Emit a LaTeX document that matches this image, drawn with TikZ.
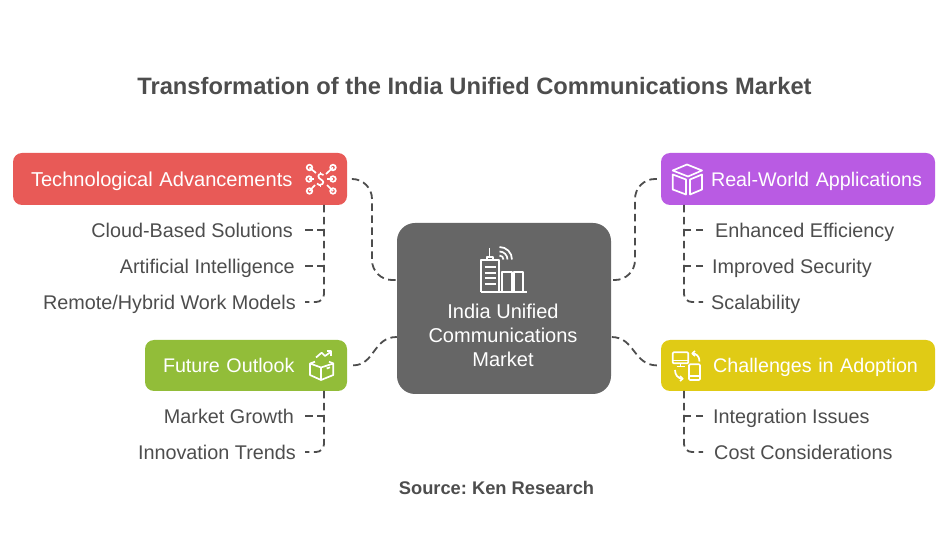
\documentclass[tikz,border=0pt]{standalone}
\usepackage{fontspec}
\setmainfont{Liberation Sans}
\usepackage{tikz}
\usetikzlibrary{arrows.meta}
\definecolor{inktext}{HTML}{4D4D4D}
\definecolor{boxred}{HTML}{E85A57}
\definecolor{boxpurple}{HTML}{B95BE3}
\definecolor{boxgreen}{HTML}{92BD39}
\definecolor{boxyellow}{HTML}{E0CB15}
\definecolor{boxgrey}{HTML}{666666}
\tikzset{
	leaf/.style={inner sep=0pt, text=inktext, font=\fontsize{19.8}{22}\selectfont, text height=15.5pt, text depth=0pt},
	headbox/.style={rounded corners=9pt, text=white, inner ysep=0pt, font=\fontsize{19.7}{22}\selectfont, text height=15pt, text depth=0pt, minimum height=52pt},
	link/.style={draw=inktext, line width=1.8pt, dash pattern=on 7.5pt off 4.5pt},
	iconline/.style={draw=white, line width=1.7pt, line join=round}
}
\begin{document}
\frenchspacing
\begin{tikzpicture}[x=1pt,y=-1pt]
	\useasboundingbox (0,0) rectangle (948,534);
	\node[font=\bfseries\fontsize{23.7}{28}\selectfont, text=inktext] (title) at (474.5,86) {Transformation of the India Unified Communications Market};
	\node[font=\bfseries\fontsize{18.3}{22}\selectfont, text=inktext] (source) at (496.5,487.5) {Source: Ken Research};
	% center
	\node[fill=boxgrey, rounded corners=18pt, minimum width=214pt, minimum height=171pt] (market) at (504,308.5) {};
	\node[align=center, text=white, font=\fontsize{20}{24}\selectfont] (markettext) at (503,335) {India Unified\\Communications\\Market};
	% four heads
	\node[headbox, fill=boxred, font=\fontsize{20.1}{22}\selectfont, text width=298pt, inner xsep=18pt, align=left] (tech) at (180,179) {Technological Advancements};
	\node[headbox, fill=boxpurple, text width=248pt, inner xsep=13pt, align=right] (real) at (798,179) {Real-World Applications};
	\node[headbox, fill=boxgreen, text width=166pt, inner xsep=18pt, align=left, minimum height=51pt] (future) at (246,365.5) {Future Outlook};
	\node[headbox, fill=boxyellow, text width=240pt, inner xsep=17pt, align=right, minimum height=51pt] (chall) at (798,365.5) {Challenges in Adoption};
	% leaves
	\node[leaf, anchor=east] (cloud) at (293,230) {Cloud-Based Solutions};
	\node[leaf, anchor=east] (ai) at (295,266) {Artificial Intelligence};
	\node[leaf, anchor=east] (remote) at (296,302) {Remote/Hybrid Work Models};
	\node[leaf, anchor=west] (eff) at (715,230) {Enhanced Efficiency};
	\node[leaf, anchor=west] (sec) at (712,266) {Improved Security};
	\node[leaf, anchor=west] (scale) at (711,302) {Scalability};
	\node[leaf, anchor=east] (growth) at (294,416) {Market Growth};
	\node[leaf, anchor=east] (trends) at (296,452) {Innovation Trends};
	\node[leaf, anchor=west] (integ) at (713,416) {Integration Issues};
	\node[leaf, anchor=west] (cost) at (714,452) {Cost Considerations};
	% trunks
	\coordinate (techtrunk) at (324,205);
	\coordinate (realtrunk) at (684,205);
	\coordinate (futuretrunk) at (324,391);
	\coordinate (challtrunk) at (684,391);
	% links to the center
	\draw[link, rounded corners=20pt, shorten <=5pt] (tech.east) -- (372,179) -- (372,280) -- (market.west |- 0,280);
	\draw[link, rounded corners=20pt, shorten <=4pt] (real.west) -- (635,179) -- (635,280) -- (market.east |- 0,280);
	\draw[link, shorten <=6pt] (future.east) .. controls (375,365) and (373,337) .. (market.west |- 0,337);
	\draw[link, shorten <=4pt] (chall.west) .. controls (633,365) and (635,337) .. (market.east |- 0,337);
	% links to the leaves
	\draw[link, rounded corners=8pt, shorten >=9pt] (techtrunk) |- (remote.east);
	\draw[link, rounded corners=8pt, shorten >=8pt] (realtrunk) |- (scale.west);
	\draw[link, rounded corners=8pt, shorten >=9pt] (futuretrunk) |- (trends.east);
	\draw[link, rounded corners=8pt, shorten >=11pt] (challtrunk) |- (cost.west);
	\draw[link, shorten <=12pt] (cloud.east) -- (techtrunk |- cloud);
	\draw[link, shorten <=10pt] (ai.east) -- (techtrunk |- ai);
	\draw[link, shorten <=11pt] (growth.east) -- (futuretrunk |- growth);
	\draw[link, shorten <=12pt] (eff.west) -- (realtrunk |- eff);
	\draw[link, shorten <=9pt] (sec.west) -- (realtrunk |- sec);
	\draw[link, shorten <=10pt] (integ.west) -- (challtrunk |- integ);
	% icon network
	\begin{scope}[iconline]
		\foreach \ix/\iy/\jx/\jy in {309.5/167.5/316/173, 309/179/314/179, 309.5/191/315/185, 333/167.5/326/174, 333/179/327/179, 333/191/327/185}{
			\draw (\ix,\iy) circle[radius=2.8pt];
			\draw (\jx,\jy) -- (\ix,\iy);
		}
		\draw (323.5,175) .. controls (320,172.5) and (317,175) .. (319,178) .. controls (321,180) and (325,181) .. (322.5,184) .. controls (320.5,186) and (318,185) .. (317,183.5);
		\draw (320.5,172) -- (320.5,174);
		\draw (320.5,185) -- (320.5,187);
	\end{scope}
	% icon box
	\begin{scope}[iconline]
		\draw (672.7,170.5) -- (687,164.5) -- (702,170.5) -- (688,176.5) -- cycle;
		\draw (672.7,174.5) -- (672.7,189.5) -- (686,194.5) -- (686,179.5) -- cycle;
		\draw (702,174.5) -- (702,189.5) -- (690,194.5) -- (690,179.5) -- cycle;
	\end{scope}
	% icon book
	\begin{scope}[iconline]
		\draw (316,357.5) -- (321.7,352.7) -- (325,356) -- (331,351.7);
		\draw (326.5,351.3) -- (331.3,351.3) -- (331.3,356);
		\draw (315,361.7) -- (310,363.5) -- (310,375) -- (321,380) -- (333.3,375) -- (333.3,363.5) -- (321,367.5) -- (310,363.5);
		\draw (321,367.5) -- (321,380);
		\draw (333.3,363.5) -- (329,361.7);
		\draw (326.7,368.5) -- (330,367.3);
	\end{scope}
	% icon devices
	\begin{scope}[iconline]
		\draw[rounded corners=1pt] (672.7,352.3) rectangle (688.3,363.3);
		\draw (672.7,360.5) -- (688.3,360.5);
		\draw (680.5,363.3) -- (680.5,366.5);
		\draw (676.5,366.5) -- (684.5,366.5);
		\draw[rounded corners=1pt] (689,364.3) rectangle (700,380);
		\draw (689,375.7) -- (700,375.7);
		\draw (699.5,361.5) .. controls (699.5,356) and (696,353.5) .. (692.5,353.5);
		\draw (695,351) -- (692.3,353.5) -- (695,356);
		\draw (675,370) .. controls (675,375) and (678,378.5) .. (682.5,378.7);
		\draw (680,376) -- (682.7,378.7) -- (680,381);
	\end{scope}
	% icon building
	\begin{scope}[iconline]
		\draw (480.7,292.3) -- (480.7,260) -- (499.3,260) -- (499.3,292.3);
		\draw (486.7,260) -- (486.7,256.7) -- (493.3,256.7) -- (493.3,260);
		\draw (489.5,256.7) -- (489.5,247.7);
		\foreach \iy in {266.7,272.7,278.3,284.3}{
			\draw (484.5,\iy) -- (496,\iy);
		}
		\draw (502.3,292.3) -- (502.3,272.3) -- (511.7,272.3) -- (511.7,292.3);
		\draw (514,292.3) -- (514,272.3) -- (523.3,272.3) -- (523.3,292.3);
		\draw (480.7,292.3) -- (527.3,292.3);
		\draw (499.5,255.5) arc[start angle=90, end angle=0, radius=4pt];
		\draw (499.5,251.5) arc[start angle=90, end angle=0, radius=8pt];
		\draw (499.5,247) arc[start angle=90, end angle=0, radius=12.5pt];
	\end{scope}
\end{tikzpicture}
\end{document}
